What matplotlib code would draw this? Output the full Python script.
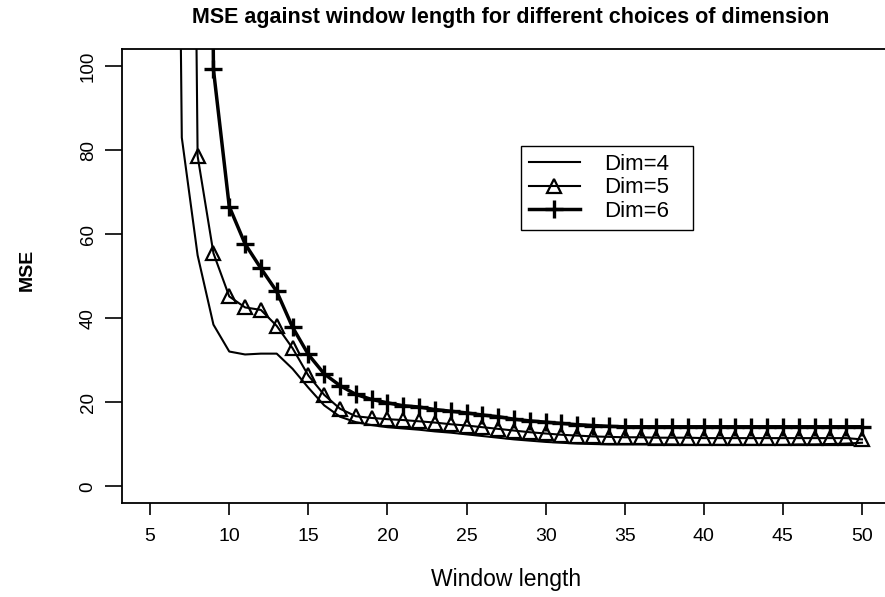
import matplotlib
matplotlib.use("Agg")
import matplotlib.pyplot as plt
import numpy as np

plt.rcParams['font.family'] = ['Liberation Sans', 'DejaVu Sans']

window = list(range(5, 51))
dim4 = [1500, 450, 83, 55, 38.5, 32.1, 31.4, 31.6, 31.6, 28.0, 23.5, 19.3, 16.6, 15.3, 14.6, 14.1,
        13.8, 13.5, 13.1, 12.8, 12.4, 12.0, 11.6, 11.2, 10.9, 10.6, 10.4, 10.2, 10.1, 10.0, 10.0,
        10.0, 10.0, 10.0, 9.9, 9.9, 9.9, 9.9, 9.9, 9.9, 9.9, 10.0, 10.0, 10.1, 10.2, 10.4]
dim5 = [2500, 1200, 450, 78.6, 55.5, 45.2, 42.6, 42.0, 38.2, 32.9, 26.4, 21.8, 18.5, 16.7, 16.3, 16.0,
        15.8, 15.5, 15.2, 14.8, 14.5, 14.1, 13.7, 13.3, 12.9, 12.6, 12.3, 12.1, 11.9, 11.8, 11.7,
        11.7, 11.6, 11.6, 11.6, 11.5, 11.5, 11.5, 11.5, 11.5, 11.5, 11.5, 11.5, 11.5, 11.5, 11.2]
dim6 = [3500, 2000, 1100, 600, 99.2, 66.6, 57.7, 51.9, 46.4, 37.9, 31.4, 26.8, 24.0, 21.9, 20.7, 19.9,
        19.2, 18.9, 18.3, 17.9, 17.5, 17.0, 16.6, 16.0, 15.6, 15.3, 15.0, 14.7, 14.5, 14.3, 14.2,
        14.2, 14.2, 14.2, 14.2, 14.2, 14.2, 14.2, 14.2, 14.2, 14.2, 14.2, 14.2, 14.2, 14.2, 14.2]
labels = ["Dim=4", "Dim=5", "Dim=6"]
xticks = [5, 10, 15, 20, 25, 30, 35, 40, 45, 50]
yticks = [0, 20, 40, 60, 80, 100]

fig = plt.figure(figsize=(8.85, 5.97), dpi=100)
ax = fig.add_axes([0.1375, 0.157, 0.8687, 0.7604])

l4, = ax.plot(window, dim4, color='black', lw=1.5, label=labels[0])
l5, = ax.plot(window, dim5, color='black', lw=1.5, marker='^', ms=10, mfc='none',
              mec='black', mew=1.6, label=labels[1])
l6, = ax.plot(window, dim6, color='black', lw=2.5, marker='+', ms=13, mew=2.4,
              label=labels[2])

ax.set_xlim(3.2, 51.8)
ax.set_ylim(-4, 104)
ax.set_xticks(xticks)
ax.set_yticks(yticks)
ax.tick_params(axis='x', length=8.6, width=1.2, pad=9, labelsize=14, direction='out')
ax.tick_params(axis='y', length=12, width=1.2, pad=6, labelsize=13.5, direction='out')
for lab in ax.get_yticklabels():
    lab.set_rotation(90)
    lab.set_va('center')
for s in ax.spines.values():
    s.set_linewidth(1.3)
ax.spines['right'].set_visible(False)

fig.text(0.577, 0.9715, "MSE against window length for different choices of dimension",
         ha='center', va='center', fontsize=15.5, fontweight='bold')
fig.text(0.572, 0.0285, "Window length", ha='center', va='center', fontsize=16.5)
fig.text(0.0305, 0.548, "MSE", ha='center', va='center', rotation=90, fontsize=14,
         fontweight='bold')

leg = ax.legend(handles=[l4, l5, l6], labels=labels, loc='upper left',
                bbox_to_anchor=(521 / 885, 1 - 232 / 597, 172 / 885, 86 / 597),
                bbox_transform=fig.transFigure, mode='expand',
                borderaxespad=0, fancybox=False, edgecolor='black', framealpha=1,
                fontsize=16, handlelength=2.3, handletextpad=1.1, labelspacing=0.12,
                borderpad=0.35)
leg.get_frame().set_linewidth(1.0)

fig.savefig("out.png", dpi=100)
